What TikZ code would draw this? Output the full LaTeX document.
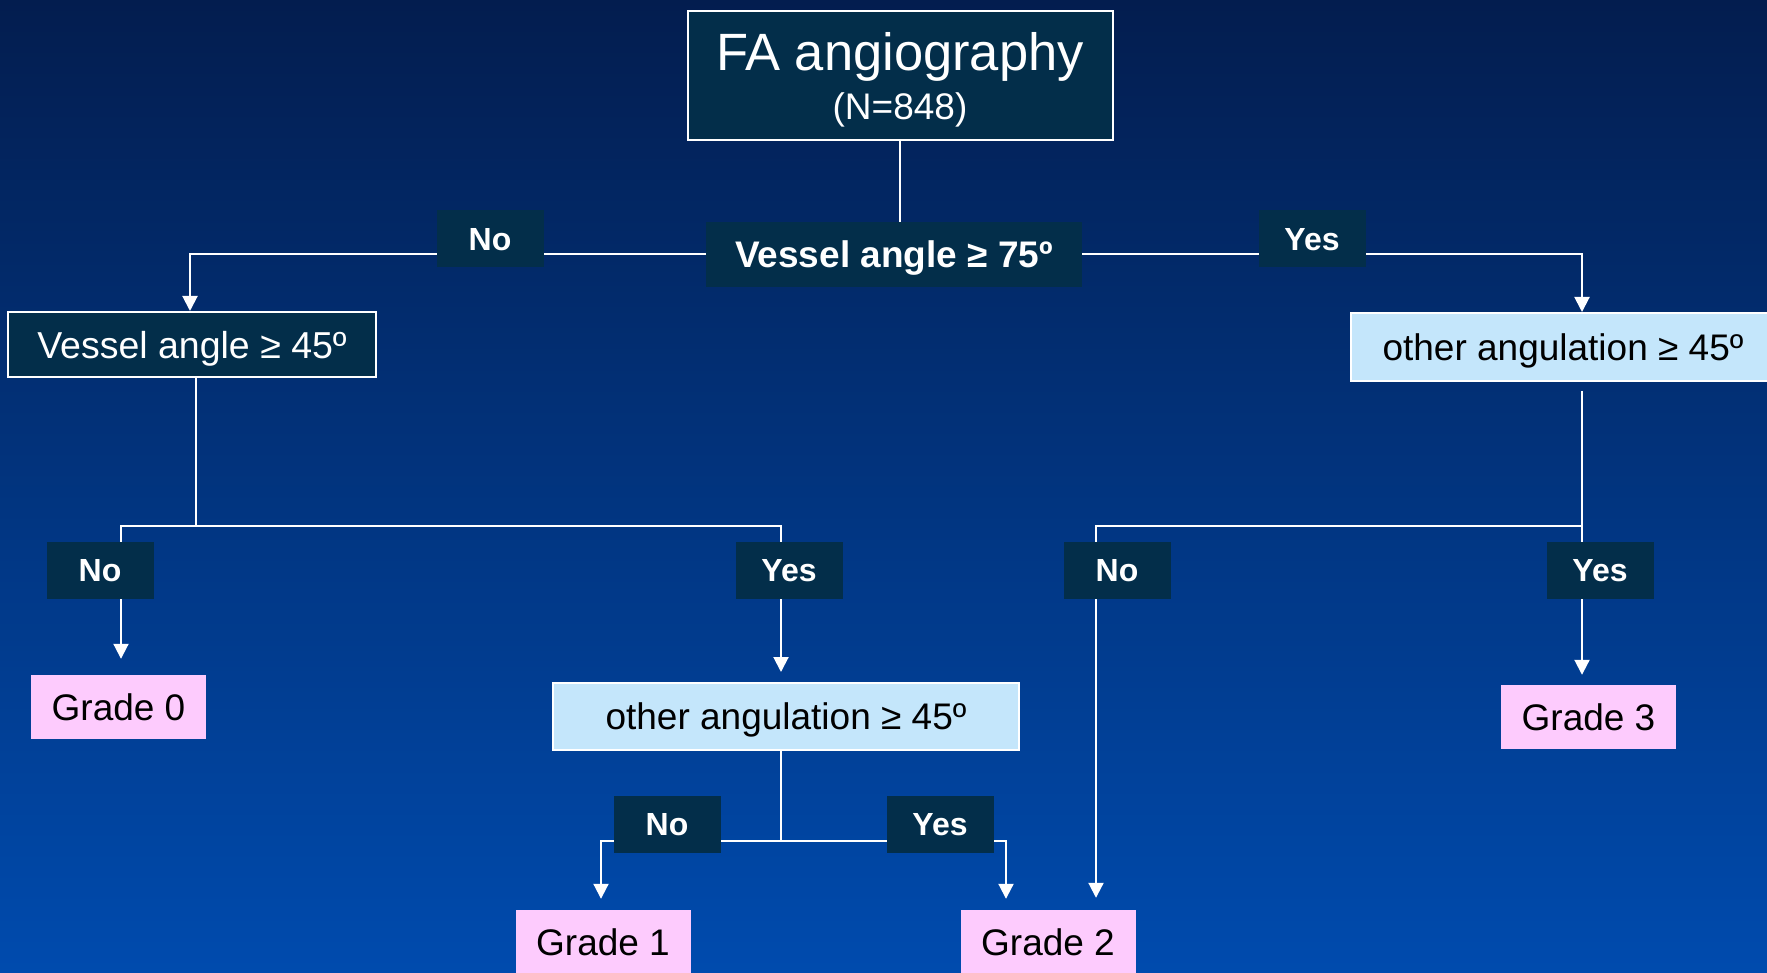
\documentclass[tikz,border=0pt]{standalone}
\usepackage{fontspec}
\setmainfont{Liberation Sans}
\usetikzlibrary{arrows.meta,backgrounds}

\definecolor{bgtop}{HTML}{031D4F}
\definecolor{bgmid}{HTML}{023C8E}
\definecolor{bgbot}{HTML}{004BAE}
\definecolor{labfill}{HTML}{032E4A}
\definecolor{qblue}{HTML}{C4E6FB}
\definecolor{gpink}{HTML}{FDCBFD}

\pgfdeclarelayer{canvas}
\pgfsetlayers{canvas,background,main}

\begin{document}
\begin{tikzpicture}[
    x=1pt, y=-1pt,
    lab/.style={rectangle, fill=labfill, text=white, inner sep=0pt, text depth=0pt, minimum width=107pt, minimum height=57pt, font=\bfseries\fontsize{32}{34}\selectfont},
    qdark/.style={rectangle, draw=white, line width=2pt, fill=labfill, text=white, inner sep=0pt, text depth=0pt, font=\fontsize{37.5}{40}\selectfont},
    qlight/.style={rectangle, draw=white, line width=2pt, fill=qblue, text=black, inner sep=0pt, text depth=0pt, font=\fontsize{37}{40}\selectfont},
    grade/.style={rectangle, fill=gpink, text=black, inner sep=0pt, text depth=0pt, minimum width=175pt, minimum height=64pt, font=\fontsize{37}{40}\selectfont},
    link/.style={white, line width=2pt},
    arrow/.style={-{Triangle[width=15pt,length=15pt]}, white, line width=2pt},
]
    \useasboundingbox (0,0) rectangle (1767,973);
    \begin{pgfonlayer}{canvas}
        \shade[top color=bgtop, middle color=bgmid, bottom color=bgbot] (0,0) rectangle (1767,973);
    \end{pgfonlayer}

    % Main flow
    \node[qdark, minimum width=425pt, minimum height=129pt, align=center, font=\fontsize{52.5}{49}\selectfont] (top) at (900,75.5)
        {FA angiography\\{\fontsize{37}{49}\selectfont (N=848)}};
    \node[rectangle, fill=labfill, text=white, inner sep=0pt, text depth=0pt, minimum width=376pt, minimum height=65pt, font=\bfseries\fontsize{37}{40}\selectfont] (q75) at (894,254.5) {Vessel angle ≥ 75º};

    % Second level
    \node[qdark, minimum width=368pt, minimum height=65pt] (q45) at (192,344.5) {Vessel angle ≥ 45º};
    \node[qlight, minimum width=424pt, minimum height=68pt] (oaR) at (1563,347) {other angulation ≥ 45º};
    \node[qlight, minimum width=466pt, minimum height=67pt] (oaM) at (786,716.5) {other angulation ≥ 45º};

    % Grades
    \node[grade] (g0) at (118.5,707) {Grade 0};
    \node[grade] (g1) at (603,942) {Grade 1};
    \node[grade] (g2) at (1048,942) {Grade 2};
    \node[grade] (g3) at (1588.5,717) {Grade 3};

    % Yes / No tags
    \node[lab] (no1) at (490,239) {No};
    \node[lab] (yes1) at (1312,239) {Yes};
    \node[lab] (no2) at (100,570) {No};
    \node[lab] (yes2) at (789,570) {Yes};
    \node[lab] (no3) at (1117,570) {No};
    \node[lab] (yes3) at (1600,570) {Yes};
    \node[lab] (no4) at (667,824) {No};
    \node[lab] (yes4) at (940,824) {Yes};

    % Connectors
    \begin{scope}[on background layer]
        \draw[link] (top.south) -- (top.south |- q75.north);
        \draw[arrow] (q75.west) -| ([xshift=-2pt]q45.north);
        \draw[arrow] (q75.east) -| ([xshift=19pt]oaR.north);

        \draw[link] ([xshift=4pt]q45.south) -- ++(0,148) coordinate (j1);
        \draw[arrow, shorten >=16pt] (j1) -| ([xshift=2.5pt]g0.north);
        \draw[arrow, shorten >=10pt] (j1) -| ([xshift=-5pt]oaM.north);

        \draw[link] ([xshift=-5pt]oaM.south) -- ++(0,90) coordinate (j2);
        \draw[arrow, shorten >=11pt] (j2) -| ([xshift=-2pt]g1.north);
        \draw[arrow, shorten >=11pt] (j2) -| ([xshift=-42pt]g2.north);

        \draw[link, shorten <=9pt] ([xshift=19pt]oaR.south) -- ++(0,144) coordinate (j3);
        \draw[arrow, shorten >=12pt] (j3) -| ([xshift=48pt]g2.north);
        \draw[arrow, shorten >=10pt] (j3) -- (j3 |- g3.north);
    \end{scope}
\end{tikzpicture}
\end{document}
